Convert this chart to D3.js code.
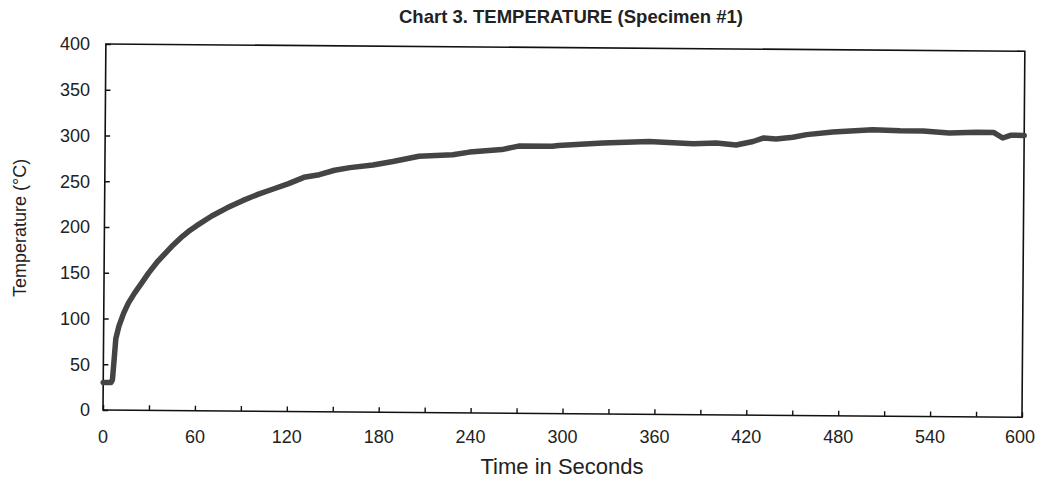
<!DOCTYPE html>
<html>
<head>
	<title>Chart 3</title>
	<script src="https://cdn.jsdelivr.net/npm/d3@7"></script>
</head>
<style type="text/css">
body { margin: 0; background-color: #fff; }
text { font-family: "Liberation Sans", Arial, sans-serif; fill: #222; }
.axis path, .axis line { stroke: #111; }
</style>
<body>
</body>
<script type="text/javascript">
	// (seconds, deg C)
	var times = [0, 5, 6, 7, 8, 10, 13, 16, 20, 25, 29, 35, 40, 45, 50, 55, 60, 70, 80, 90, 100, 110, 120, 130, 140, 150, 160, 175, 188, 205, 227, 238, 259, 270, 292, 296, 325, 355, 384, 399, 412, 423, 430, 438, 449, 458, 475, 501, 519, 534, 551, 569, 580, 586, 591, 600];
	var temps = [30, 30, 33, 55, 78, 92, 106, 117, 128, 140, 150, 163, 172, 181, 189, 196, 202, 213, 222, 230, 237, 243, 249, 256, 259, 264, 267, 270, 274, 280, 282, 285, 288, 292, 292, 293, 296, 298, 296, 297, 295, 299, 303, 302, 304, 307, 310, 313, 312, 312, 310, 311, 311, 305, 308, 308];
	var xTicks = [0, 30, 60, 90, 120, 150, 180, 210, 240, 270, 300, 330, 360, 390, 420, 450, 480, 510, 540, 570, 600];
	var xLabels = [0, 60, 120, 180, 240, 300, 360, 420, 480, 540, 600];
	var yTicks = [0, 50, 100, 150, 200, 250, 300, 350, 400];

	var w = 1037, h = 478;
	var margin = {top: 44, left: 103, right: 15, bottom: 68};
	var svg = d3.select("body").append("svg").attr("width", w).attr("height", h);

	var x = d3.scaleLinear().domain([0, 600]).range([margin.left, w - margin.right]);
	var y = d3.scaleLinear().domain([0, 400]).range([h - margin.bottom, margin.top]);

	// the scan is a little tilted
	var plot = svg.append("g").attr("transform", "rotate(0.45," + margin.left + "," + (h - margin.bottom) + ")");

	plot.append("rect")
		.attr("x", x(0)).attr("y", y(400))
		.attr("width", x(600) - x(0)).attr("height", y(0) - y(400))
		.attr("fill", "none").attr("stroke", "#111").attr("stroke-width", 1.6);

	plot.append("g").attr("class", "axis")
		.attr("transform", "translate(0," + y(0) + ")")
		.call(d3.axisBottom(x).tickValues(xTicks).tickSizeInner(-5).tickSizeOuter(0).tickFormat(""))
		.call(function(g){ g.select(".domain").remove(); g.selectAll("line").attr("stroke-width", 1.4); });

	plot.append("g").attr("class", "axis")
		.attr("transform", "translate(" + x(0) + ",0)")
		.call(d3.axisLeft(y).tickValues(yTicks).tickSizeInner(-5).tickSizeOuter(0).tickFormat(""))
		.call(function(g){ g.select(".domain").remove(); g.selectAll("line").attr("stroke-width", 1.4); });

	var pts = times.map(function(t, i){ return [t, temps[i]]; });
	var line = d3.line().x(function(d){ return x(d[0]); }).y(function(d){ return y(d[1]); });
	plot.append("path").datum(pts)
		.attr("d", line)
		.attr("fill", "none")
		.attr("stroke", "#444")
		.attr("stroke-width", 5.5)
		.attr("stroke-linejoin", "round")
		.attr("stroke-linecap", "round");

	// tick labels (not tilted in the scan)
	svg.append("g").selectAll("text").data(yTicks).enter().append("text")
		.attr("x", x(0) - 13).attr("y", function(d){ return y(d); })
		.attr("dy", "0.35em").attr("text-anchor", "end")
		.style("font-size", "18px")
		.text(function(d){ return d; });

	svg.append("g").selectAll("text").data(xLabels).enter().append("text")
		.attr("x", function(d){ return d == 600 ? w - 2 : x(d); })
		.attr("y", y(0) + 33)
		.attr("text-anchor", function(d){ return d == 600 ? "end" : "middle"; })
		.style("font-size", "18px")
		.text(function(d){ return d; });

	svg.append("text")
		.attr("x", 571).attr("y", 23)
		.attr("text-anchor", "middle")
		.style("font-size", "18.5px").style("font-weight", "bold")
		.text("Chart 3. TEMPERATURE (Specimen #1)");

	svg.append("text")
		.attr("x", 562).attr("y", 474)
		.attr("text-anchor", "middle")
		.style("font-size", "22px")
		.text("Time in Seconds");

	svg.append("text")
		.attr("transform", "translate(26,228) rotate(-90)")
		.attr("text-anchor", "middle")
		.style("font-size", "18px")
		.text("Temperature (°C)");
</script>
</html>
